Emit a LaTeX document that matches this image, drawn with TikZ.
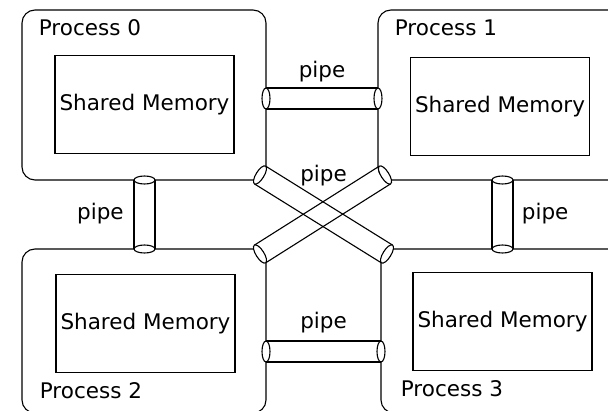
\documentclass[tikz,border=0pt]{standalone}
\usepackage{fontspec}
\setmainfont{DejaVu Sans}
\usetikzlibrary{shapes,calc}

% pipe between two points: sides, two ends, optional label node
\newcommand{\drawpipe}[3]{%
  \draw[pipeside] ($#1!10.5pt!90:#2$) -- ($#2!10.5pt!-90:#1$)
    ($#1!10.5pt!-90:#2$) -- ($#2!10.5pt!90:#1$);
  \path #1 -- #2 node[pos=0,sloped,pipeend]{} node[pos=1,sloped,pipeend]{} #3;
}

\begin{document}
\begin{tikzpicture}[x=1pt,y=-1pt,line width=1.1pt]
\tikzstyle{process}=[draw,rounded corners=13pt,anchor=north west,outer sep=0pt,minimum height=170pt]
\tikzstyle{memory}=[draw,minimum width=179pt,minimum height=98pt,outer sep=0pt]
\tikzstyle{pipeend}=[draw,fill=white,ellipse,inner sep=0pt,outer sep=0pt,minimum width=8pt,minimum height=21pt]
\tikzstyle{pipeside}=[]
\tikzstyle{every node}=[font=\fontsize{21.5}{25}\selectfont]
\clip (0,0) rectangle (608,411);
% processes
\node[process,minimum width=244pt] (p0) at (22,10) {};
\node[process,minimum width=262pt] (p1) at (378,10) {};
\node[process,minimum width=244pt,minimum height=164pt] (p2) at (22,249) {};
\node[process,minimum width=262pt,minimum height=164pt] (p3) at (381,249) {};
\node[anchor=base west] (t0) at ($(p0.north west)+(13,26)$) {Process 0};
\node[anchor=base west] (t1) at ($(p1.north west)+(13,26)$) {Process 1};
\node[anchor=base west] (t2) at ($(p2.north west)+(14,150)$) {Process 2};
\node[anchor=base west] (t3) at ($(p3.north west)+(16,148)$) {Process 3};
% shared memory
\node[memory] (m0) at (144.5,104.5) {Shared Memory};
\node[memory] (m1) at (500,106.5) {Shared Memory};
\node[memory] (m2) at (145.5,323.5) {Shared Memory};
\node[memory] (m3) at (502.5,321.5) {Shared Memory};
% pipe ends
\coordinate (a01) at ($(p0.east)+(0,3.5)$);
\coordinate (b01) at (a01 -| p1.west);
\coordinate (a23) at ($(p2.east)+(0,20.5)$);
\coordinate (b23) at (a23 -| p3.west);
\coordinate (a02) at (m0.center |- p0.south);
\coordinate (b02) at (m0.center |- p2.north);
\coordinate (a13) at (m3.center |- p1.south);
\coordinate (b13) at (m3.center |- p3.north);
\coordinate (a03) at ($(p0.south east)+(-6,-5)$);
\coordinate (b03) at ($(p3.north west)+(6,5)$);
\coordinate (a12) at ($(p1.south west)+(7,-5)$);
\coordinate (b12) at ($(p2.north east)+(-6,5)$);
% pipes
\drawpipe{(a01)}{(b01)}{node[midway,anchor=base,yshift=21pt]{pipe}}
\drawpipe{(a23)}{(b23)}{node[midway,anchor=base,yshift=23pt]{pipe}}
\drawpipe{(a02)}{(b02)}{node[midway,anchor=base east,xshift=-17pt,yshift=-5.5pt]{pipe}}
\drawpipe{(a13)}{(b13)}{node[midway,anchor=base west,xshift=15.5pt,yshift=-5.5pt]{pipe}}
\drawpipe{(a03)}{(b03)}{node[midway,anchor=base,yshift=32.5pt]{pipe}}
\drawpipe{(a12)}{(b12)}{}
\end{tikzpicture}
\end{document}
